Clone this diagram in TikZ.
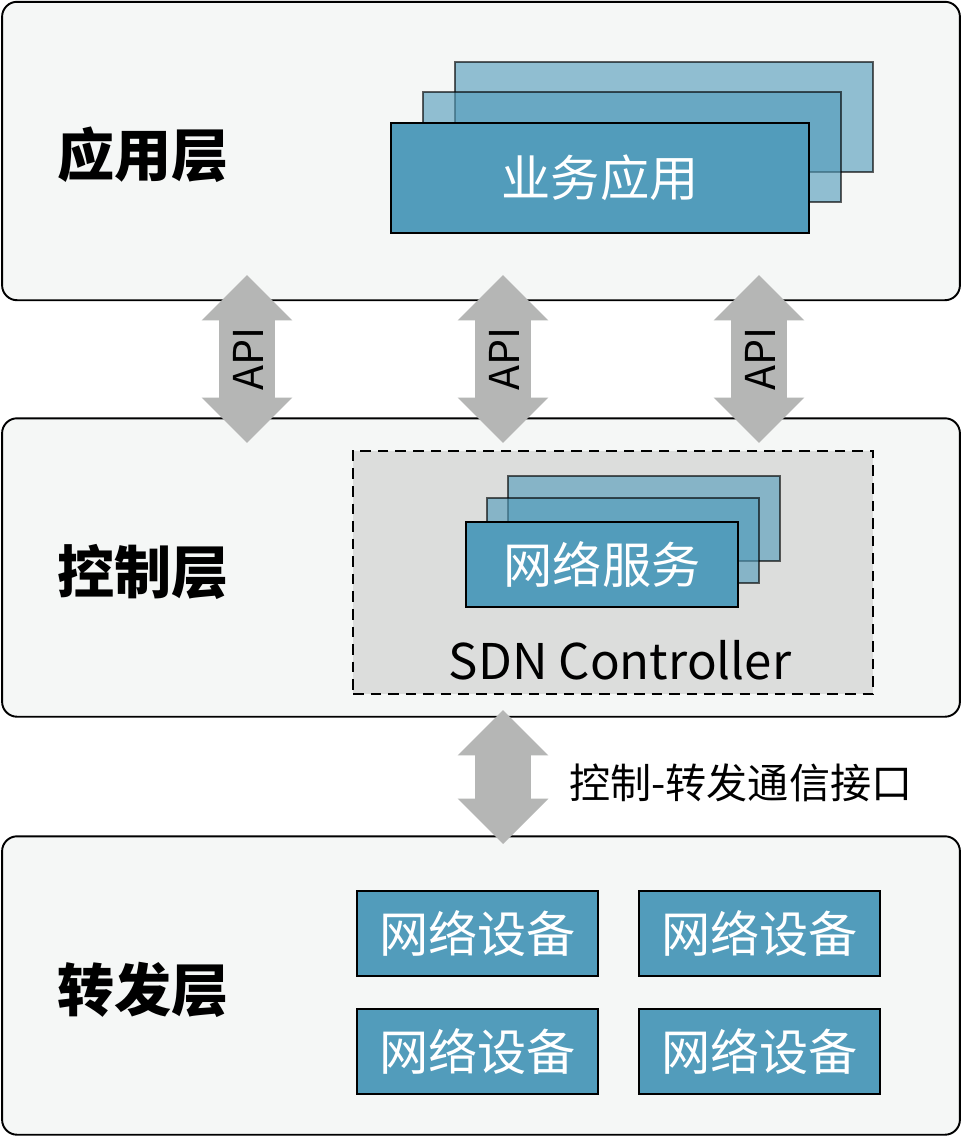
\documentclass[tikz,border=0pt]{standalone}
\usepackage{fontspec}
\setmainfont{Noto Sans CJK SC}
\usetikzlibrary{shapes.arrows, shapes.misc, positioning}
\definecolor{layerbg}{HTML}{F5F7F6}
\definecolor{svcblue}{HTML}{529CBB}
\definecolor{ctrlbg}{HTML}{DCDDDC}
\definecolor{arrowgray}{HTML}{B5B6B5}

\begin{document}
\begin{tikzpicture}[x=0.02cm, y=-0.02cm, font=\fontsize{23.4}{28}\selectfont]
\tikzset{
    layer/.style={draw, rounded corners=0.3cm, line width=1.1pt, fill=layerbg, minimum width=19.16cm, minimum height=5.97cm},
    layername/.style={anchor=west, inner sep=0pt, font=\fontsize{32.5}{36}\selectfont\bfseries},
    appbox/.style={draw, line width=0.9pt, fill=svcblue, minimum width=8.36cm, minimum height=2.2cm, text=white, font=\fontsize{28}{32}\selectfont},
    ghost/.style={opacity=0.62},
    svcbox/.style={appbox, minimum width=5.44cm, minimum height=1.7cm},
    devbox/.style={appbox, minimum width=4.82cm, minimum height=1.7cm},
    apiarrow/.style={double arrow, fill=arrowgray, rotate=90, minimum height=3.36cm, minimum width=1.8cm, double arrow head extend=0.35cm, inner sep=0pt, text height=0.88cm, text depth=0.22cm}
}
\fill[white] (0,0) rectangle (962,1137);
\useasboundingbox (0,0) rectangle (962,1137);
% layers
\node[layer] (AppLayer) at (481,151) {};
\node[layer] (CtrlLayer) at (481,567.5) {};
\node[layer] (FwdLayer) at (481,985.5) {};
\node[layername] (AppName) at (57,155) {应用层};
\node[layername] (CtrlName) at (57,572) {控制层};
\node[layername] (FwdName) at (57,990) {转发层};
% application stack
\node[appbox, ghost] (App3) at (664,117) {};
\node[appbox, ghost] (App2) at (632,147) {};
\node[appbox] (App1) at (600,178) {业务应用};
% controller
\node[draw, dash pattern=on 6pt off 4pt, line width=0.9pt, fill=ctrlbg, minimum width=10.4cm, minimum height=4.86cm] (Ctrl) at (613,572.5) {};
\node[svcbox, ghost] (Svc3) at (644,518.5) {};
\node[svcbox, ghost] (Svc2) at (623,540.5) {};
\node[svcbox] (Svc1) at (602,564.5) {网络服务};
\node[font=\fontsize{28}{32}\selectfont] (SDN) at (620,660) {SDN Controller};
% interfaces
\node[apiarrow] (Api1) at (247,359) {API};
\node[apiarrow] (Api2) at (503,359) {API};
\node[apiarrow] (Api3) at (759,359) {API};
\node[apiarrow, minimum height=2.68cm] (Southbound) at (503,777) {};
\node[anchor=west] (SbName) at (563,783) {控制-转发通信接口};
% devices
\node[devbox] (Dev1) at (477.5,933.5) {网络设备};
\node[devbox] (Dev2) at (759.5,933.5) {网络设备};
\node[devbox] (Dev3) at (477.5,1051.5) {网络设备};
\node[devbox] (Dev4) at (759.5,1051.5) {网络设备};
\end{tikzpicture}
\end{document}
